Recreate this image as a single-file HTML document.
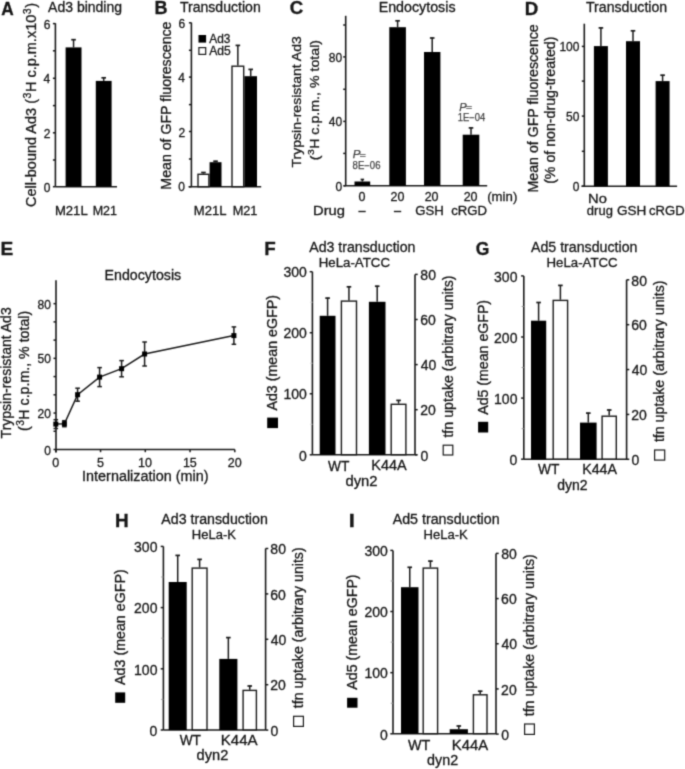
<!DOCTYPE html>
<html><head><meta charset="utf-8"><style>
html,body{margin:0;padding:0;background:#fff;}
svg{display:block;}
text{font-family:"Liberation Sans",sans-serif;fill:#161616;stroke:#161616;stroke-width:0.3px;}
.g text{fill:#444;stroke:#444;stroke-width:0.25px;}
</style></head><body>
<svg width="685" height="769" viewBox="0 0 685 769">
<defs><filter id="b" x="0" y="0" width="685" height="769" filterUnits="userSpaceOnUse" color-interpolation-filters="sRGB"><feConvolveMatrix order="5" kernelMatrix="0.00001 0.00042 0.00170 0.00042 0.00001 0.00042 0.02740 0.10988 0.02740 0.00042 0.00170 0.10988 0.44065 0.10988 0.00170 0.00042 0.02740 0.10988 0.02740 0.00042 0.00001 0.00042 0.00170 0.00042 0.00001" divisor="1" edgeMode="none"/></filter></defs>
<rect width="685" height="769" fill="#fff"/>
<g filter="url(#b)"><rect width="685" height="769" fill="#fff"/>
<text x="1.32" y="14.90" font-size="17.50" font-weight="bold" textLength="12.45" lengthAdjust="spacingAndGlyphs">A</text>
<text x="48.10" y="12.00" font-size="14.00">Ad3 binding</text>
<line x1="55.40" y1="23.20" x2="55.40" y2="186.70" stroke="#1a1a1a" stroke-width="1.6"/>
<line x1="52.90" y1="23.60" x2="55.40" y2="23.60" stroke="#1a1a1a" stroke-width="1.5"/>
<line x1="52.90" y1="50.80" x2="55.40" y2="50.80" stroke="#1a1a1a" stroke-width="1.5"/>
<line x1="52.90" y1="78.30" x2="55.40" y2="78.30" stroke="#1a1a1a" stroke-width="1.5"/>
<line x1="52.90" y1="105.60" x2="55.40" y2="105.60" stroke="#1a1a1a" stroke-width="1.5"/>
<line x1="52.90" y1="132.80" x2="55.40" y2="132.80" stroke="#1a1a1a" stroke-width="1.5"/>
<line x1="52.90" y1="160.00" x2="55.40" y2="160.00" stroke="#1a1a1a" stroke-width="1.5"/>
<line x1="52.90" y1="186.70" x2="55.40" y2="186.70" stroke="#1a1a1a" stroke-width="1.5"/>
<text x="43.72" y="28.60" font-size="12.00">6</text>
<text x="43.60" y="83.24" font-size="12.00">4</text>
<text x="43.84" y="137.80" font-size="12.00">2</text>
<text x="43.66" y="191.70" font-size="12.00">0</text>
<line x1="55.40" y1="186.70" x2="117.00" y2="186.70" stroke="#1a1a1a" stroke-width="1.6"/>
<line x1="73.55" y1="47.40" x2="73.55" y2="39.30" stroke="#1a1a1a" stroke-width="1.5"/>
<line x1="71.25" y1="39.70" x2="75.85" y2="39.70" stroke="#1a1a1a" stroke-width="1.7"/>
<rect x="65.60" y="47.40" width="15.90" height="139.30" fill="#000"/>
<line x1="103.70" y1="80.90" x2="103.70" y2="77.40" stroke="#1a1a1a" stroke-width="1.5"/>
<line x1="101.40" y1="77.80" x2="106.00" y2="77.80" stroke="#1a1a1a" stroke-width="1.7"/>
<rect x="95.80" y="80.90" width="15.80" height="105.80" fill="#000"/>
<text x="54.95" y="214.90" font-size="12.50" textLength="32.76" lengthAdjust="spacingAndGlyphs">M21L</text>
<text x="92.70" y="214.90" font-size="12.50">M21</text>
<text transform="translate(35.80,207.03) rotate(-90)" font-size="14.00" textLength="204.04" lengthAdjust="spacingAndGlyphs">Cell-bound Ad3 (<tspan font-size="10.08" dy="-5.04" dx="0.50">3</tspan><tspan dy="5.04" dx="0.50">H c.p.m.x10</tspan><tspan font-size="10.08" dy="-5.04" dx="0.50">3</tspan><tspan dy="5.04" dx="0.50">)</tspan></text>
<text x="154.43" y="14.40" font-size="17.50" font-weight="bold" textLength="13.02" lengthAdjust="spacingAndGlyphs">B</text>
<text x="179.92" y="11.80" font-size="14.00" textLength="80.88" lengthAdjust="spacingAndGlyphs">Transduction</text>
<line x1="191.40" y1="22.60" x2="191.40" y2="186.80" stroke="#1a1a1a" stroke-width="1.6"/>
<line x1="188.90" y1="22.80" x2="191.40" y2="22.80" stroke="#1a1a1a" stroke-width="1.5"/>
<line x1="188.90" y1="50.30" x2="191.40" y2="50.30" stroke="#1a1a1a" stroke-width="1.5"/>
<line x1="188.90" y1="77.10" x2="191.40" y2="77.10" stroke="#1a1a1a" stroke-width="1.5"/>
<line x1="188.90" y1="104.60" x2="191.40" y2="104.60" stroke="#1a1a1a" stroke-width="1.5"/>
<line x1="188.90" y1="131.50" x2="191.40" y2="131.50" stroke="#1a1a1a" stroke-width="1.5"/>
<line x1="188.90" y1="159.00" x2="191.40" y2="159.00" stroke="#1a1a1a" stroke-width="1.5"/>
<line x1="188.90" y1="186.80" x2="191.40" y2="186.80" stroke="#1a1a1a" stroke-width="1.5"/>
<text x="178.42" y="27.80" font-size="12.00">6</text>
<text x="178.30" y="82.04" font-size="12.00">4</text>
<text x="178.54" y="136.50" font-size="12.00">2</text>
<text x="178.36" y="191.40" font-size="12.00">0</text>
<line x1="188.60" y1="186.80" x2="261.20" y2="186.80" stroke="#1a1a1a" stroke-width="1.6"/>
<rect x="198.50" y="35.00" width="7.60" height="7.60" fill="#000"/>
<rect x="198.90" y="47.60" width="6.80" height="6.80" fill="#fff" stroke="#1a1a1a" stroke-width="1.2"/>
<text x="209.30" y="42.60" font-size="12.00" textLength="21.17" lengthAdjust="spacingAndGlyphs">Ad3</text>
<text x="209.30" y="54.80" font-size="12.00" textLength="21.48" lengthAdjust="spacingAndGlyphs">Ad5</text>
<line x1="203.45" y1="173.60" x2="203.45" y2="172.10" stroke="#1a1a1a" stroke-width="1.5"/>
<line x1="201.15" y1="172.50" x2="205.75" y2="172.50" stroke="#1a1a1a" stroke-width="1.7"/>
<rect x="198.00" y="174.30" width="10.90" height="12.40" fill="#fff" stroke="#1a1a1a" stroke-width="1.4"/>
<line x1="215.55" y1="162.20" x2="215.55" y2="160.80" stroke="#1a1a1a" stroke-width="1.5"/>
<line x1="213.25" y1="161.20" x2="217.85" y2="161.20" stroke="#1a1a1a" stroke-width="1.7"/>
<rect x="209.60" y="162.20" width="11.90" height="24.60" fill="#000"/>
<line x1="237.85" y1="65.50" x2="237.85" y2="45.00" stroke="#1a1a1a" stroke-width="1.5"/>
<line x1="235.55" y1="45.40" x2="240.15" y2="45.40" stroke="#1a1a1a" stroke-width="1.7"/>
<rect x="232.00" y="66.20" width="11.70" height="120.50" fill="#fff" stroke="#1a1a1a" stroke-width="1.4"/>
<line x1="250.70" y1="76.20" x2="250.70" y2="69.00" stroke="#1a1a1a" stroke-width="1.5"/>
<line x1="248.40" y1="69.40" x2="253.00" y2="69.40" stroke="#1a1a1a" stroke-width="1.7"/>
<rect x="244.40" y="76.20" width="12.60" height="110.60" fill="#000"/>
<text x="193.85" y="214.90" font-size="12.50" textLength="32.76" lengthAdjust="spacingAndGlyphs">M21L</text>
<text x="232.68" y="214.90" font-size="12.50" textLength="24.80" lengthAdjust="spacingAndGlyphs">M21</text>
<text transform="translate(170.80,189.63) rotate(-90)" font-size="14.00" textLength="168.09" lengthAdjust="spacingAndGlyphs">Mean of GFP fluorescence</text>
<text x="289.65" y="14.40" font-size="17.50" font-weight="bold" textLength="13.45" lengthAdjust="spacingAndGlyphs">C</text>
<text x="378.66" y="11.80" font-size="14.00" textLength="76.86" lengthAdjust="spacingAndGlyphs">Endocytosis</text>
<line x1="345.70" y1="15.80" x2="345.70" y2="185.80" stroke="#1a1a1a" stroke-width="1.6"/>
<line x1="343.20" y1="25.00" x2="345.70" y2="25.00" stroke="#1a1a1a" stroke-width="1.5"/>
<line x1="343.20" y1="56.90" x2="345.70" y2="56.90" stroke="#1a1a1a" stroke-width="1.5"/>
<line x1="343.20" y1="89.30" x2="345.70" y2="89.30" stroke="#1a1a1a" stroke-width="1.5"/>
<line x1="343.20" y1="121.40" x2="345.70" y2="121.40" stroke="#1a1a1a" stroke-width="1.5"/>
<line x1="343.20" y1="153.40" x2="345.70" y2="153.40" stroke="#1a1a1a" stroke-width="1.5"/>
<line x1="343.20" y1="185.80" x2="345.70" y2="185.80" stroke="#1a1a1a" stroke-width="1.5"/>
<text x="328.80" y="61.90" font-size="12.00">80</text>
<text x="328.80" y="126.40" font-size="12.00">40</text>
<text x="335.46" y="190.80" font-size="12.00">0</text>
<line x1="344.00" y1="185.80" x2="487.20" y2="185.80" stroke="#1a1a1a" stroke-width="1.6"/>
<line x1="362.35" y1="181.50" x2="362.35" y2="179.10" stroke="#1a1a1a" stroke-width="1.5"/>
<line x1="360.60" y1="179.50" x2="364.10" y2="179.50" stroke="#1a1a1a" stroke-width="1.7"/>
<rect x="354.50" y="181.50" width="15.70" height="4.30" fill="#000"/>
<line x1="397.60" y1="27.20" x2="397.60" y2="20.40" stroke="#1a1a1a" stroke-width="1.5"/>
<line x1="395.30" y1="20.80" x2="399.90" y2="20.80" stroke="#1a1a1a" stroke-width="1.7"/>
<rect x="389.30" y="27.20" width="16.60" height="158.60" fill="#000"/>
<line x1="432.20" y1="52.00" x2="432.20" y2="37.60" stroke="#1a1a1a" stroke-width="1.5"/>
<line x1="429.90" y1="38.00" x2="434.50" y2="38.00" stroke="#1a1a1a" stroke-width="1.7"/>
<rect x="424.00" y="52.00" width="16.40" height="133.80" fill="#000"/>
<line x1="471.00" y1="134.70" x2="471.00" y2="127.50" stroke="#1a1a1a" stroke-width="1.5"/>
<line x1="468.70" y1="127.90" x2="473.30" y2="127.90" stroke="#1a1a1a" stroke-width="1.7"/>
<rect x="462.70" y="134.70" width="16.60" height="51.10" fill="#000"/>
<g class="g">
<text x="352.65" y="158.40" font-size="10.50" font-style="italic" textLength="7.73" lengthAdjust="spacingAndGlyphs">P</text>
<text x="359.68" y="157.60" font-size="8.00" textLength="6.02" lengthAdjust="spacingAndGlyphs">=</text>
<text x="352.57" y="168.90" font-size="10.00" textLength="27.91" lengthAdjust="spacingAndGlyphs">8E−06</text>
<text x="459.27" y="110.80" font-size="10.50" font-style="italic" textLength="7.41" lengthAdjust="spacingAndGlyphs">P</text>
<text x="465.98" y="110.00" font-size="8.00" textLength="6.02" lengthAdjust="spacingAndGlyphs">=</text>
<text x="457.79" y="121.30" font-size="10.00" textLength="27.59" lengthAdjust="spacingAndGlyphs">1E−04</text>
</g>
<text x="358.50" y="201.30" font-size="12.50">0</text>
<text x="390.47" y="201.30" font-size="12.50">20</text>
<text x="424.67" y="201.30" font-size="12.50">20</text>
<text x="463.67" y="201.30" font-size="12.50">20</text>
<text x="487.21" y="201.00" font-size="12.50" textLength="30.12" lengthAdjust="spacingAndGlyphs">(min)</text>
<text x="313.02" y="214.90" font-size="12.50" textLength="31.98" lengthAdjust="spacingAndGlyphs">Drug</text>
<rect x="358.40" y="210.80" width="7.30" height="1.40" fill="#1c1c1c"/>
<rect x="393.90" y="210.80" width="7.30" height="1.40" fill="#1c1c1c"/>
<text x="415.24" y="214.90" font-size="12.50" textLength="28.54" lengthAdjust="spacingAndGlyphs">GSH</text>
<text x="451.27" y="214.90" font-size="12.50" textLength="35.85" lengthAdjust="spacingAndGlyphs">cRGD</text>
<text transform="translate(300.80,167.48) rotate(-90)" font-size="13.40" textLength="131.26" lengthAdjust="spacingAndGlyphs">Trypsin-resistant Ad3</text>
<text transform="translate(319.20,160.35) rotate(-90)" font-size="13.40" textLength="120.45" lengthAdjust="spacingAndGlyphs">(<tspan font-size="9.65" dy="-4.82" dx="0.50">3</tspan><tspan dy="4.82" dx="0.50">H c.p.m., % total)</tspan></text>
<text x="524.78" y="14.50" font-size="17.50" font-weight="bold" textLength="13.50" lengthAdjust="spacingAndGlyphs">D</text>
<text x="586.02" y="11.80" font-size="14.00" textLength="81.18" lengthAdjust="spacingAndGlyphs">Transduction</text>
<line x1="584.30" y1="23.70" x2="584.30" y2="186.20" stroke="#1a1a1a" stroke-width="1.6"/>
<line x1="581.80" y1="46.40" x2="584.30" y2="46.40" stroke="#1a1a1a" stroke-width="1.5"/>
<line x1="581.80" y1="81.10" x2="584.30" y2="81.10" stroke="#1a1a1a" stroke-width="1.5"/>
<line x1="581.80" y1="116.10" x2="584.30" y2="116.10" stroke="#1a1a1a" stroke-width="1.5"/>
<line x1="581.80" y1="151.30" x2="584.30" y2="151.30" stroke="#1a1a1a" stroke-width="1.5"/>
<line x1="581.80" y1="186.20" x2="584.30" y2="186.20" stroke="#1a1a1a" stroke-width="1.5"/>
<text x="559.44" y="51.40" font-size="12.00">100</text>
<text x="566.10" y="121.10" font-size="12.00">50</text>
<text x="572.76" y="191.20" font-size="12.00">0</text>
<line x1="581.50" y1="186.20" x2="677.10" y2="186.20" stroke="#1a1a1a" stroke-width="1.6"/>
<line x1="600.90" y1="46.10" x2="600.90" y2="27.50" stroke="#1a1a1a" stroke-width="1.5"/>
<line x1="598.60" y1="27.90" x2="603.20" y2="27.90" stroke="#1a1a1a" stroke-width="1.7"/>
<rect x="593.90" y="46.10" width="14.00" height="140.10" fill="#000"/>
<line x1="633.00" y1="41.20" x2="633.00" y2="30.40" stroke="#1a1a1a" stroke-width="1.5"/>
<line x1="630.70" y1="30.80" x2="635.30" y2="30.80" stroke="#1a1a1a" stroke-width="1.7"/>
<rect x="626.00" y="41.20" width="14.00" height="145.00" fill="#000"/>
<line x1="662.60" y1="81.10" x2="662.60" y2="74.80" stroke="#1a1a1a" stroke-width="1.5"/>
<line x1="660.30" y1="75.20" x2="664.90" y2="75.20" stroke="#1a1a1a" stroke-width="1.7"/>
<rect x="655.60" y="81.10" width="14.00" height="105.10" fill="#000"/>
<text x="588.02" y="202.50" font-size="12.50" textLength="18.82" lengthAdjust="spacingAndGlyphs">No</text>
<text x="586.88" y="214.90" font-size="12.50" textLength="25.98" lengthAdjust="spacingAndGlyphs">drug</text>
<text x="616.92" y="214.90" font-size="12.50" textLength="29.39" lengthAdjust="spacingAndGlyphs">GSH</text>
<text x="649.08" y="214.90" font-size="12.50" textLength="35.64" lengthAdjust="spacingAndGlyphs">cRGD</text>
<text transform="translate(537.50,192.43) rotate(-90)" font-size="14.00" textLength="168.19" lengthAdjust="spacingAndGlyphs">Mean of GFP fluorescence</text>
<text transform="translate(554.70,183.85) rotate(-90)" font-size="14.00" textLength="147.34" lengthAdjust="spacingAndGlyphs">(% of non-drug-treated)</text>
<text x="0.56" y="254.80" font-size="17.50" font-weight="bold" textLength="12.75" lengthAdjust="spacingAndGlyphs">E</text>
<text x="104.56" y="279.80" font-size="14.00" textLength="76.66" lengthAdjust="spacingAndGlyphs">Endocytosis</text>
<line x1="56.00" y1="280.30" x2="56.00" y2="452.50" stroke="#1a1a1a" stroke-width="1.6"/>
<line x1="53.50" y1="449.50" x2="56.00" y2="449.50" stroke="#1a1a1a" stroke-width="1.5"/>
<line x1="53.50" y1="431.27" x2="56.00" y2="431.27" stroke="#1a1a1a" stroke-width="1.5"/>
<line x1="53.50" y1="413.04" x2="56.00" y2="413.04" stroke="#1a1a1a" stroke-width="1.5"/>
<line x1="53.50" y1="394.81" x2="56.00" y2="394.81" stroke="#1a1a1a" stroke-width="1.5"/>
<line x1="53.50" y1="376.58" x2="56.00" y2="376.58" stroke="#1a1a1a" stroke-width="1.5"/>
<line x1="53.50" y1="358.35" x2="56.00" y2="358.35" stroke="#1a1a1a" stroke-width="1.5"/>
<line x1="53.50" y1="340.12" x2="56.00" y2="340.12" stroke="#1a1a1a" stroke-width="1.5"/>
<line x1="53.50" y1="321.89" x2="56.00" y2="321.89" stroke="#1a1a1a" stroke-width="1.5"/>
<line x1="53.50" y1="303.66" x2="56.00" y2="303.66" stroke="#1a1a1a" stroke-width="1.5"/>
<text x="44.16" y="454.50" font-size="12.00">0</text>
<text x="37.50" y="418.04" font-size="12.00">20</text>
<text x="37.50" y="363.35" font-size="12.00">50</text>
<text x="37.50" y="308.66" font-size="12.00">80</text>
<line x1="56.00" y1="449.50" x2="234.80" y2="449.50" stroke="#1a1a1a" stroke-width="1.6"/>
<line x1="55.80" y1="449.50" x2="55.80" y2="452.20" stroke="#1a1a1a" stroke-width="1.5"/>
<text x="52.30" y="467.00" font-size="12.50">0</text>
<line x1="100.55" y1="449.50" x2="100.55" y2="452.20" stroke="#1a1a1a" stroke-width="1.5"/>
<text x="97.08" y="467.00" font-size="12.50">5</text>
<line x1="145.30" y1="449.50" x2="145.30" y2="452.20" stroke="#1a1a1a" stroke-width="1.5"/>
<text x="138.11" y="467.00" font-size="12.50">10</text>
<line x1="190.05" y1="449.50" x2="190.05" y2="452.20" stroke="#1a1a1a" stroke-width="1.5"/>
<text x="182.89" y="467.00" font-size="12.50">15</text>
<line x1="234.80" y1="449.50" x2="234.80" y2="452.20" stroke="#1a1a1a" stroke-width="1.5"/>
<text x="227.77" y="467.00" font-size="12.50">20</text>
<text x="82.10" y="480.90" font-size="14.00" textLength="126.38" lengthAdjust="spacingAndGlyphs">Internalization (min)</text>
<path d="M55.80,424.10 L64.40,423.70 L77.60,394.70 L99.60,377.10 L121.60,368.70 L144.60,354.00 L233.90,335.60" fill="none" stroke="#1a1a1a" stroke-width="1.5"/>
<line x1="55.80" y1="419.70" x2="55.80" y2="428.50" stroke="#1a1a1a" stroke-width="1.5"/>
<line x1="53.50" y1="419.70" x2="58.10" y2="419.70" stroke="#1a1a1a" stroke-width="1.5"/>
<line x1="53.50" y1="428.50" x2="58.10" y2="428.50" stroke="#1a1a1a" stroke-width="1.5"/>
<rect x="53.30" y="421.60" width="5.00" height="5.00" fill="#000"/>
<line x1="64.40" y1="420.70" x2="64.40" y2="426.70" stroke="#1a1a1a" stroke-width="1.5"/>
<line x1="62.10" y1="420.70" x2="66.70" y2="420.70" stroke="#1a1a1a" stroke-width="1.5"/>
<line x1="62.10" y1="426.70" x2="66.70" y2="426.70" stroke="#1a1a1a" stroke-width="1.5"/>
<rect x="61.90" y="421.20" width="5.00" height="5.00" fill="#000"/>
<line x1="77.60" y1="388.20" x2="77.60" y2="401.20" stroke="#1a1a1a" stroke-width="1.5"/>
<line x1="75.30" y1="388.20" x2="79.90" y2="388.20" stroke="#1a1a1a" stroke-width="1.5"/>
<line x1="75.30" y1="401.20" x2="79.90" y2="401.20" stroke="#1a1a1a" stroke-width="1.5"/>
<rect x="75.10" y="392.20" width="5.00" height="5.00" fill="#000"/>
<line x1="99.60" y1="367.60" x2="99.60" y2="386.60" stroke="#1a1a1a" stroke-width="1.5"/>
<line x1="97.30" y1="367.60" x2="101.90" y2="367.60" stroke="#1a1a1a" stroke-width="1.5"/>
<line x1="97.30" y1="386.60" x2="101.90" y2="386.60" stroke="#1a1a1a" stroke-width="1.5"/>
<rect x="97.10" y="374.60" width="5.00" height="5.00" fill="#000"/>
<line x1="121.60" y1="360.60" x2="121.60" y2="376.80" stroke="#1a1a1a" stroke-width="1.5"/>
<line x1="119.30" y1="360.60" x2="123.90" y2="360.60" stroke="#1a1a1a" stroke-width="1.5"/>
<line x1="119.30" y1="376.80" x2="123.90" y2="376.80" stroke="#1a1a1a" stroke-width="1.5"/>
<rect x="119.10" y="366.20" width="5.00" height="5.00" fill="#000"/>
<line x1="144.60" y1="342.00" x2="144.60" y2="366.00" stroke="#1a1a1a" stroke-width="1.5"/>
<line x1="142.30" y1="342.00" x2="146.90" y2="342.00" stroke="#1a1a1a" stroke-width="1.5"/>
<line x1="142.30" y1="366.00" x2="146.90" y2="366.00" stroke="#1a1a1a" stroke-width="1.5"/>
<rect x="142.10" y="351.50" width="5.00" height="5.00" fill="#000"/>
<line x1="233.90" y1="326.90" x2="233.90" y2="344.30" stroke="#1a1a1a" stroke-width="1.5"/>
<line x1="231.60" y1="326.90" x2="236.20" y2="326.90" stroke="#1a1a1a" stroke-width="1.5"/>
<line x1="231.60" y1="344.30" x2="236.20" y2="344.30" stroke="#1a1a1a" stroke-width="1.5"/>
<rect x="231.40" y="333.10" width="5.00" height="5.00" fill="#000"/>
<text transform="translate(10.80,438.38) rotate(-90)" font-size="14.00" textLength="131.06" lengthAdjust="spacingAndGlyphs">Trypsin-resistant Ad3</text>
<text transform="translate(29.30,431.05) rotate(-90)" font-size="14.00" textLength="120.25" lengthAdjust="spacingAndGlyphs">(<tspan font-size="10.08" dy="-5.04" dx="0.50">3</tspan><tspan dy="5.04" dx="0.50">H c.p.m., % total)</tspan></text>
<text x="264.38" y="255.00" font-size="17.50" font-weight="bold" textLength="11.50" lengthAdjust="spacingAndGlyphs">F</text>
<text x="309.20" y="251.90" font-size="14.00" textLength="106.32" lengthAdjust="spacingAndGlyphs">Ad3 transduction</text>
<text x="318.74" y="267.00" font-size="12.50" textLength="71.25" lengthAdjust="spacingAndGlyphs">HeLa-ATCC</text>
<line x1="312.40" y1="271.70" x2="312.40" y2="454.80" stroke="#1a1a1a" stroke-width="1.6"/>
<line x1="309.70" y1="454.80" x2="312.40" y2="454.80" stroke="#1a1a1a" stroke-width="1.5"/>
<line x1="309.70" y1="393.77" x2="312.40" y2="393.77" stroke="#1a1a1a" stroke-width="1.5"/>
<line x1="309.70" y1="332.73" x2="312.40" y2="332.73" stroke="#1a1a1a" stroke-width="1.5"/>
<line x1="309.70" y1="271.70" x2="312.40" y2="271.70" stroke="#1a1a1a" stroke-width="1.5"/>
<line x1="310.20" y1="424.28" x2="312.40" y2="424.28" stroke="#d0d0d0" stroke-width="1.0"/>
<line x1="310.20" y1="363.25" x2="312.40" y2="363.25" stroke="#d0d0d0" stroke-width="1.0"/>
<line x1="310.20" y1="302.22" x2="312.40" y2="302.22" stroke="#d0d0d0" stroke-width="1.0"/>
<text x="298.92" y="460.50" font-size="14.00">0</text>
<text x="283.38" y="399.47" font-size="14.00">100</text>
<text x="283.38" y="338.43" font-size="14.00">200</text>
<text x="283.38" y="277.40" font-size="14.00">300</text>
<line x1="415.00" y1="274.40" x2="415.00" y2="454.80" stroke="#1a1a1a" stroke-width="1.6"/>
<line x1="415.00" y1="454.80" x2="417.70" y2="454.80" stroke="#1a1a1a" stroke-width="1.5"/>
<line x1="415.00" y1="409.70" x2="417.70" y2="409.70" stroke="#1a1a1a" stroke-width="1.5"/>
<line x1="415.00" y1="364.60" x2="417.70" y2="364.60" stroke="#1a1a1a" stroke-width="1.5"/>
<line x1="415.00" y1="319.50" x2="417.70" y2="319.50" stroke="#1a1a1a" stroke-width="1.5"/>
<line x1="415.00" y1="274.40" x2="417.70" y2="274.40" stroke="#1a1a1a" stroke-width="1.5"/>
<text x="420.44" y="460.50" font-size="14.00">0</text>
<text x="420.30" y="415.40" font-size="14.00">20</text>
<text x="420.72" y="370.30" font-size="14.00">40</text>
<text x="420.30" y="325.20" font-size="14.00">60</text>
<text x="420.37" y="280.10" font-size="14.00">80</text>
<line x1="312.40" y1="454.80" x2="417.00" y2="454.80" stroke="#1a1a1a" stroke-width="1.6"/>
<line x1="327.60" y1="315.80" x2="327.60" y2="297.70" stroke="#1a1a1a" stroke-width="1.5"/>
<line x1="325.30" y1="298.10" x2="329.90" y2="298.10" stroke="#1a1a1a" stroke-width="1.7"/>
<rect x="319.70" y="315.80" width="15.80" height="139.00" fill="#000"/>
<line x1="348.95" y1="300.40" x2="348.95" y2="286.40" stroke="#1a1a1a" stroke-width="1.5"/>
<line x1="346.65" y1="286.80" x2="351.25" y2="286.80" stroke="#1a1a1a" stroke-width="1.7"/>
<rect x="341.40" y="301.10" width="15.10" height="153.60" fill="#fff" stroke="#1a1a1a" stroke-width="1.4"/>
<line x1="377.20" y1="301.80" x2="377.20" y2="285.80" stroke="#1a1a1a" stroke-width="1.5"/>
<line x1="374.90" y1="286.20" x2="379.50" y2="286.20" stroke="#1a1a1a" stroke-width="1.7"/>
<rect x="368.90" y="301.80" width="16.60" height="153.00" fill="#000"/>
<line x1="398.55" y1="403.60" x2="398.55" y2="400.00" stroke="#1a1a1a" stroke-width="1.5"/>
<line x1="396.25" y1="400.40" x2="400.85" y2="400.40" stroke="#1a1a1a" stroke-width="1.7"/>
<rect x="391.20" y="404.30" width="14.70" height="50.40" fill="#fff" stroke="#1a1a1a" stroke-width="1.4"/>
<text x="327.93" y="470.50" font-size="14.00" textLength="21.34" lengthAdjust="spacingAndGlyphs">WT</text>
<text x="371.24" y="469.90" font-size="14.00" textLength="35.38" lengthAdjust="spacingAndGlyphs">K44A</text>
<text x="345.51" y="485.70" font-size="14.00" textLength="32.08" lengthAdjust="spacingAndGlyphs">dyn2</text>
<text transform="translate(276.80,410.60) rotate(-90)" font-size="14.00" textLength="115.70" lengthAdjust="spacingAndGlyphs">Ad3 (mean eGFP)</text>
<rect x="267.20" y="417.60" width="10.80" height="10.50" fill="#000"/>
<text transform="translate(452.50,437.61) rotate(-90)" font-size="14.00" textLength="162.21" lengthAdjust="spacingAndGlyphs">tfn uptake (arbitrary units)</text>
<rect x="443.20" y="445.20" width="9.60" height="9.80" fill="#fff" stroke="#1a1a1a" stroke-width="1.2"/>
<text x="475.70" y="254.80" font-size="17.50" font-weight="bold">G</text>
<text x="531.00" y="251.90" font-size="14.00" textLength="106.42" lengthAdjust="spacingAndGlyphs">Ad5 transduction</text>
<text x="546.54" y="267.00" font-size="12.50" textLength="71.15" lengthAdjust="spacingAndGlyphs">HeLa-ATCC</text>
<line x1="523.80" y1="275.90" x2="523.80" y2="459.20" stroke="#1a1a1a" stroke-width="1.6"/>
<line x1="521.10" y1="459.20" x2="523.80" y2="459.20" stroke="#1a1a1a" stroke-width="1.5"/>
<line x1="521.10" y1="398.10" x2="523.80" y2="398.10" stroke="#1a1a1a" stroke-width="1.5"/>
<line x1="521.10" y1="337.00" x2="523.80" y2="337.00" stroke="#1a1a1a" stroke-width="1.5"/>
<line x1="521.10" y1="275.90" x2="523.80" y2="275.90" stroke="#1a1a1a" stroke-width="1.5"/>
<line x1="521.60" y1="428.65" x2="523.80" y2="428.65" stroke="#9a9a9a" stroke-width="1.0"/>
<line x1="521.60" y1="367.55" x2="523.80" y2="367.55" stroke="#9a9a9a" stroke-width="1.0"/>
<line x1="521.60" y1="306.45" x2="523.80" y2="306.45" stroke="#9a9a9a" stroke-width="1.0"/>
<text x="509.62" y="464.90" font-size="14.00">0</text>
<text x="494.08" y="403.80" font-size="14.00">100</text>
<text x="494.08" y="342.70" font-size="14.00">200</text>
<text x="494.08" y="281.60" font-size="14.00">300</text>
<line x1="626.60" y1="279.80" x2="626.60" y2="459.30" stroke="#1a1a1a" stroke-width="1.6"/>
<line x1="626.60" y1="459.30" x2="629.30" y2="459.30" stroke="#1a1a1a" stroke-width="1.5"/>
<line x1="626.60" y1="414.43" x2="629.30" y2="414.43" stroke="#1a1a1a" stroke-width="1.5"/>
<line x1="626.60" y1="369.55" x2="629.30" y2="369.55" stroke="#1a1a1a" stroke-width="1.5"/>
<line x1="626.60" y1="324.68" x2="629.30" y2="324.68" stroke="#1a1a1a" stroke-width="1.5"/>
<line x1="626.60" y1="279.80" x2="629.30" y2="279.80" stroke="#1a1a1a" stroke-width="1.5"/>
<text x="631.44" y="465.00" font-size="14.00">0</text>
<text x="631.30" y="420.12" font-size="14.00">20</text>
<text x="631.72" y="375.25" font-size="14.00">40</text>
<text x="631.30" y="330.38" font-size="14.00">60</text>
<text x="631.37" y="285.50" font-size="14.00">80</text>
<line x1="523.80" y1="459.20" x2="627.40" y2="459.20" stroke="#1a1a1a" stroke-width="1.6"/>
<line x1="538.60" y1="320.70" x2="538.60" y2="302.10" stroke="#1a1a1a" stroke-width="1.5"/>
<line x1="536.30" y1="302.50" x2="540.90" y2="302.50" stroke="#1a1a1a" stroke-width="1.7"/>
<rect x="531.00" y="320.70" width="15.20" height="138.50" fill="#000"/>
<line x1="560.40" y1="299.70" x2="560.40" y2="285.00" stroke="#1a1a1a" stroke-width="1.5"/>
<line x1="558.10" y1="285.40" x2="562.70" y2="285.40" stroke="#1a1a1a" stroke-width="1.7"/>
<rect x="553.20" y="300.40" width="14.40" height="158.70" fill="#fff" stroke="#1a1a1a" stroke-width="1.4"/>
<line x1="588.30" y1="422.60" x2="588.30" y2="412.70" stroke="#1a1a1a" stroke-width="1.5"/>
<line x1="586.00" y1="413.10" x2="590.60" y2="413.10" stroke="#1a1a1a" stroke-width="1.7"/>
<rect x="580.00" y="422.60" width="16.60" height="36.60" fill="#000"/>
<line x1="609.20" y1="415.50" x2="609.20" y2="409.60" stroke="#1a1a1a" stroke-width="1.5"/>
<line x1="606.90" y1="410.00" x2="611.50" y2="410.00" stroke="#1a1a1a" stroke-width="1.7"/>
<rect x="602.10" y="416.20" width="14.20" height="42.90" fill="#fff" stroke="#1a1a1a" stroke-width="1.4"/>
<text x="537.93" y="474.30" font-size="14.00" textLength="21.34" lengthAdjust="spacingAndGlyphs">WT</text>
<text x="582.16" y="474.20" font-size="14.00" textLength="34.86" lengthAdjust="spacingAndGlyphs">K44A</text>
<text x="557.24" y="489.70" font-size="14.00">dyn2</text>
<text transform="translate(487.60,414.80) rotate(-90)" font-size="14.00" textLength="114.89" lengthAdjust="spacingAndGlyphs">Ad5 (mean eGFP)</text>
<rect x="478.10" y="421.80" width="10.10" height="10.70" fill="#000"/>
<text transform="translate(664.00,442.11) rotate(-90)" font-size="14.00" textLength="161.61" lengthAdjust="spacingAndGlyphs">tfn uptake (arbitrary units)</text>
<rect x="654.60" y="450.00" width="10.10" height="10.10" fill="#fff" stroke="#1a1a1a" stroke-width="1.2"/>
<text x="115.07" y="527.00" font-size="17.50" font-weight="bold" textLength="13.71" lengthAdjust="spacingAndGlyphs">H</text>
<text x="161.30" y="524.20" font-size="14.00" textLength="106.52" lengthAdjust="spacingAndGlyphs">Ad3 transduction</text>
<text x="191.86" y="538.90" font-size="12.50" textLength="44.18" lengthAdjust="spacingAndGlyphs">HeLa-K</text>
<line x1="163.40" y1="546.40" x2="163.40" y2="730.00" stroke="#1a1a1a" stroke-width="1.6"/>
<line x1="160.70" y1="730.00" x2="163.40" y2="730.00" stroke="#1a1a1a" stroke-width="1.5"/>
<line x1="160.70" y1="668.80" x2="163.40" y2="668.80" stroke="#1a1a1a" stroke-width="1.5"/>
<line x1="160.70" y1="607.60" x2="163.40" y2="607.60" stroke="#1a1a1a" stroke-width="1.5"/>
<line x1="160.70" y1="546.40" x2="163.40" y2="546.40" stroke="#1a1a1a" stroke-width="1.5"/>
<line x1="161.20" y1="699.40" x2="163.40" y2="699.40" stroke="#9a9a9a" stroke-width="1.0"/>
<line x1="161.20" y1="638.20" x2="163.40" y2="638.20" stroke="#9a9a9a" stroke-width="1.0"/>
<line x1="161.20" y1="577.00" x2="163.40" y2="577.00" stroke="#9a9a9a" stroke-width="1.0"/>
<text x="149.62" y="735.70" font-size="14.00">0</text>
<text x="134.08" y="674.50" font-size="14.00">100</text>
<text x="134.08" y="613.30" font-size="14.00">200</text>
<text x="134.08" y="552.10" font-size="14.00">300</text>
<line x1="265.60" y1="548.50" x2="265.60" y2="730.10" stroke="#1a1a1a" stroke-width="1.6"/>
<line x1="265.60" y1="730.10" x2="268.30" y2="730.10" stroke="#1a1a1a" stroke-width="1.5"/>
<line x1="265.60" y1="684.70" x2="268.30" y2="684.70" stroke="#1a1a1a" stroke-width="1.5"/>
<line x1="265.60" y1="639.30" x2="268.30" y2="639.30" stroke="#1a1a1a" stroke-width="1.5"/>
<line x1="265.60" y1="593.90" x2="268.30" y2="593.90" stroke="#1a1a1a" stroke-width="1.5"/>
<line x1="265.60" y1="548.50" x2="268.30" y2="548.50" stroke="#1a1a1a" stroke-width="1.5"/>
<text x="270.44" y="735.80" font-size="14.00">0</text>
<text x="270.30" y="690.40" font-size="14.00">20</text>
<text x="270.72" y="645.00" font-size="14.00">40</text>
<text x="270.30" y="599.60" font-size="14.00">60</text>
<text x="270.37" y="554.20" font-size="14.00">80</text>
<line x1="163.40" y1="730.00" x2="265.60" y2="730.00" stroke="#1a1a1a" stroke-width="1.6"/>
<line x1="177.70" y1="582.00" x2="177.70" y2="555.00" stroke="#1a1a1a" stroke-width="1.5"/>
<line x1="175.40" y1="555.40" x2="180.00" y2="555.40" stroke="#1a1a1a" stroke-width="1.7"/>
<rect x="168.70" y="582.00" width="18.00" height="148.00" fill="#000"/>
<line x1="199.60" y1="567.40" x2="199.60" y2="559.00" stroke="#1a1a1a" stroke-width="1.5"/>
<line x1="197.30" y1="559.40" x2="201.90" y2="559.40" stroke="#1a1a1a" stroke-width="1.7"/>
<rect x="192.20" y="568.10" width="14.80" height="161.80" fill="#fff" stroke="#1a1a1a" stroke-width="1.4"/>
<line x1="228.35" y1="658.90" x2="228.35" y2="637.20" stroke="#1a1a1a" stroke-width="1.5"/>
<line x1="226.05" y1="637.60" x2="230.65" y2="637.60" stroke="#1a1a1a" stroke-width="1.7"/>
<rect x="219.30" y="658.90" width="18.10" height="71.10" fill="#000"/>
<line x1="249.75" y1="689.70" x2="249.75" y2="685.60" stroke="#1a1a1a" stroke-width="1.5"/>
<line x1="247.45" y1="686.00" x2="252.05" y2="686.00" stroke="#1a1a1a" stroke-width="1.7"/>
<rect x="243.10" y="690.40" width="13.30" height="39.50" fill="#fff" stroke="#1a1a1a" stroke-width="1.4"/>
<text x="179.63" y="744.80" font-size="14.00" textLength="21.34" lengthAdjust="spacingAndGlyphs">WT</text>
<text x="220.80" y="745.00" font-size="14.00" textLength="36.83" lengthAdjust="spacingAndGlyphs">K44A</text>
<text x="196.62" y="760.30" font-size="14.00" textLength="31.67" lengthAdjust="spacingAndGlyphs">dyn2</text>
<text transform="translate(125.20,684.90) rotate(-90)" font-size="14.00" textLength="115.60" lengthAdjust="spacingAndGlyphs">Ad3 (mean eGFP)</text>
<rect x="115.20" y="692.40" width="10.00" height="10.40" fill="#000"/>
<text transform="translate(302.80,708.21) rotate(-90)" font-size="14.00" textLength="160.80" lengthAdjust="spacingAndGlyphs">tfn uptake (arbitrary units)</text>
<rect x="293.60" y="716.30" width="9.80" height="10.10" fill="#fff" stroke="#1a1a1a" stroke-width="1.2"/>
<text x="348.67" y="527.00" font-size="17.50" font-weight="bold" textLength="6.13" lengthAdjust="spacingAndGlyphs">I</text>
<text x="392.70" y="524.20" font-size="14.00" textLength="106.93" lengthAdjust="spacingAndGlyphs">Ad5 transduction</text>
<text x="423.56" y="538.90" font-size="12.50" textLength="44.29" lengthAdjust="spacingAndGlyphs">HeLa-K</text>
<line x1="393.00" y1="550.40" x2="393.00" y2="733.80" stroke="#1a1a1a" stroke-width="1.6"/>
<line x1="390.30" y1="733.80" x2="393.00" y2="733.80" stroke="#1a1a1a" stroke-width="1.5"/>
<line x1="390.30" y1="672.67" x2="393.00" y2="672.67" stroke="#1a1a1a" stroke-width="1.5"/>
<line x1="390.30" y1="611.53" x2="393.00" y2="611.53" stroke="#1a1a1a" stroke-width="1.5"/>
<line x1="390.30" y1="550.40" x2="393.00" y2="550.40" stroke="#1a1a1a" stroke-width="1.5"/>
<line x1="390.80" y1="703.23" x2="393.00" y2="703.23" stroke="#9a9a9a" stroke-width="1.0"/>
<line x1="390.80" y1="642.10" x2="393.00" y2="642.10" stroke="#9a9a9a" stroke-width="1.0"/>
<line x1="390.80" y1="580.97" x2="393.00" y2="580.97" stroke="#9a9a9a" stroke-width="1.0"/>
<text x="380.02" y="739.50" font-size="14.00">0</text>
<text x="364.48" y="678.37" font-size="14.00">100</text>
<text x="364.48" y="617.23" font-size="14.00">200</text>
<text x="364.48" y="556.10" font-size="14.00">300</text>
<line x1="496.00" y1="553.40" x2="496.00" y2="734.10" stroke="#1a1a1a" stroke-width="1.6"/>
<line x1="496.00" y1="734.10" x2="498.70" y2="734.10" stroke="#1a1a1a" stroke-width="1.5"/>
<line x1="496.00" y1="688.92" x2="498.70" y2="688.92" stroke="#1a1a1a" stroke-width="1.5"/>
<line x1="496.00" y1="643.75" x2="498.70" y2="643.75" stroke="#1a1a1a" stroke-width="1.5"/>
<line x1="496.00" y1="598.58" x2="498.70" y2="598.58" stroke="#1a1a1a" stroke-width="1.5"/>
<line x1="496.00" y1="553.40" x2="498.70" y2="553.40" stroke="#1a1a1a" stroke-width="1.5"/>
<text x="501.24" y="739.80" font-size="14.00">0</text>
<text x="501.10" y="694.62" font-size="14.00">20</text>
<text x="501.52" y="649.45" font-size="14.00">40</text>
<text x="501.10" y="604.27" font-size="14.00">60</text>
<text x="501.17" y="559.10" font-size="14.00">80</text>
<line x1="393.00" y1="733.80" x2="496.00" y2="733.80" stroke="#1a1a1a" stroke-width="1.6"/>
<line x1="409.75" y1="587.20" x2="409.75" y2="566.90" stroke="#1a1a1a" stroke-width="1.5"/>
<line x1="407.45" y1="567.30" x2="412.05" y2="567.30" stroke="#1a1a1a" stroke-width="1.7"/>
<rect x="401.00" y="587.20" width="17.50" height="146.60" fill="#000"/>
<line x1="430.40" y1="567.40" x2="430.40" y2="560.70" stroke="#1a1a1a" stroke-width="1.5"/>
<line x1="428.10" y1="561.10" x2="432.70" y2="561.10" stroke="#1a1a1a" stroke-width="1.7"/>
<rect x="423.20" y="568.10" width="14.40" height="165.60" fill="#fff" stroke="#1a1a1a" stroke-width="1.4"/>
<line x1="458.80" y1="729.20" x2="458.80" y2="725.60" stroke="#1a1a1a" stroke-width="1.5"/>
<line x1="456.50" y1="726.00" x2="461.10" y2="726.00" stroke="#1a1a1a" stroke-width="1.7"/>
<rect x="449.70" y="729.20" width="18.20" height="4.60" fill="#000"/>
<line x1="480.20" y1="694.10" x2="480.20" y2="690.80" stroke="#1a1a1a" stroke-width="1.5"/>
<line x1="477.90" y1="691.20" x2="482.50" y2="691.20" stroke="#1a1a1a" stroke-width="1.7"/>
<rect x="473.40" y="694.80" width="13.60" height="38.90" fill="#fff" stroke="#1a1a1a" stroke-width="1.4"/>
<text x="407.93" y="749.50" font-size="14.00" textLength="22.35" lengthAdjust="spacingAndGlyphs">WT</text>
<text x="451.81" y="749.50" font-size="14.00" textLength="36.31" lengthAdjust="spacingAndGlyphs">K44A</text>
<text x="427.13" y="764.80" font-size="14.00" textLength="31.04" lengthAdjust="spacingAndGlyphs">dyn2</text>
<text transform="translate(357.30,689.70) rotate(-90)" font-size="14.00" textLength="115.30" lengthAdjust="spacingAndGlyphs">Ad5 (mean eGFP)</text>
<rect x="347.10" y="697.80" width="10.40" height="9.90" fill="#000"/>
<text transform="translate(533.70,716.31) rotate(-90)" font-size="14.00" textLength="162.11" lengthAdjust="spacingAndGlyphs">tfn uptake (arbitrary units)</text>
<rect x="524.60" y="724.00" width="9.80" height="10.40" fill="#fff" stroke="#1a1a1a" stroke-width="1.2"/>
</g>
</svg>
</body></html>
